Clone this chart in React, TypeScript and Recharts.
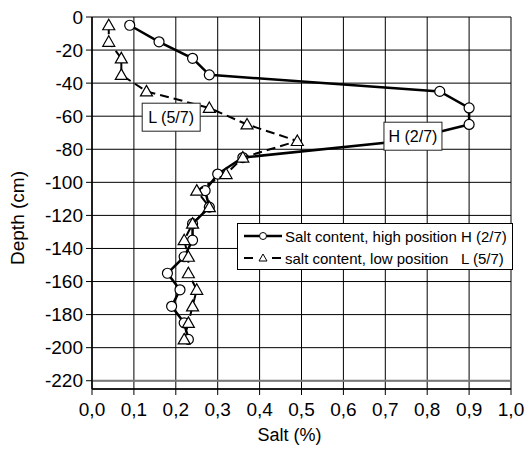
import React from "react";
import {
  CartesianGrid,
  Legend,
  ReferenceDot,
  ReferenceLine,
  Scatter,
  ScatterChart,
  XAxis,
  YAxis
} from "recharts";

const DEPTH = [-5, -15, -25, -35, -45, -55, -65, -75, -85, -95, -105, -115, -125, -135, -145, -155, -165, -175, -185, -195];
const SALT_HIGH = [0.09, 0.16, 0.24, 0.28, 0.83, 0.9, 0.9, 0.74, 0.36, 0.3, 0.27, 0.28, 0.24, 0.24, 0.22, 0.18, 0.21, 0.19, 0.22, 0.23];
const SALT_LOW = [0.04, 0.04, 0.07, 0.07, 0.13, 0.28, 0.37, 0.49, 0.36, 0.32, 0.25, 0.28, 0.24, 0.22, 0.23, 0.23, 0.25, 0.24, 0.23, 0.22];

const X_TICKS = [0, 0.1, 0.2, 0.3, 0.4, 0.5, 0.6, 0.7, 0.8, 0.9, 1];
const X_MINOR = [0.05, 0.15, 0.25, 0.35, 0.45, 0.55, 0.65, 0.75, 0.85, 0.95];
const Y_TICKS = [0, -20, -40, -60, -80, -100, -120, -140, -160, -180, -200, -220];
const Y_MINOR = [-10, -30, -50, -70, -90, -110, -130, -150, -170, -190, -210];

const LABELS = [
  { text: "L (5/7)", salt: 0.189, depth: -60.6 },
  { text: "H (2/7)", salt: 0.766, depth: -72.1 }
];

const highData = DEPTH.map((depth, i) => ({ salt: SALT_HIGH[i], depth }));
const lowData = DEPTH.map((depth, i) => ({ salt: SALT_LOW[i], depth }));

const FONT = '"Liberation Sans", Arial, sans-serif';

function CircleMark(props: any) {
  return <circle cx={props.cx} cy={props.cy} r={5} fill="#fff" stroke="#000" strokeWidth={1.2} />;
}

function TriangleMark(props: any) {
  const { cx, cy } = props;
  return (
    <path
      d={`M${cx},${cy - 6}L${cx + 6},${cy + 4.5}L${cx - 6},${cy + 4.5}Z`}
      fill="#fff"
      stroke="#000"
      strokeWidth={1.2}
    />
  );
}

function boxLabel(text: string) {
  return (props: any) => {
    const { cx, cy } = props;
    return (
      <g>
        <rect x={cx - 29} y={cy - 14} width={58} height={28} fill="#fff" stroke="#222" strokeWidth={1} />
        <text x={cx} y={cy + 5.5} textAnchor="middle" fontSize={16} fontFamily={FONT} fill="#000">
          {text}
        </text>
      </g>
    );
  };
}

function LegendBox() {
  const row = { display: "flex", alignItems: "center", height: 22, whiteSpace: "pre" as const };
  return (
    <div
      style={{
        width: 276,
        height: 47,
        boxSizing: "border-box",
        border: "1px solid #000",
        background: "#fff",
        fontFamily: FONT,
        fontSize: 15,
        color: "#000",
        padding: "1px 0 0 5px"
      }}
    >
      <div style={row}>
        <svg width={40} height={12}>
          <line x1={1} y1={6} x2={39} y2={6} stroke="#000" strokeWidth={2.5} />
          <circle cx={20} cy={6} r={3.5} fill="#fff" stroke="#000" />
        </svg>
        <span style={{ marginLeft: 2 }}>Salt content, high position H (2/7)</span>
      </div>
      <div style={row}>
        <svg width={40} height={12}>
          <line x1={1} y1={6} x2={39} y2={6} stroke="#000" strokeWidth={2} strokeDasharray="9 19" />
          <path d="M20,2L24,9L16,9Z" fill="#fff" stroke="#000" />
        </svg>
        <span style={{ marginLeft: 2 }}>salt content, low position   L (5/7)</span>
      </div>
    </div>
  );
}

export default function App() {
  return (
    <div style={{ position: "absolute", left: 0, top: 0, background: "#fff" }}>
      <ScatterChart
        width={529}
        height={453}
        margin={{ top: 17, right: 18, bottom: 0, left: 0 }}
        style={{ fontFamily: FONT }}
      >
        <CartesianGrid stroke="#000" strokeWidth={1} xAxisId="x" yAxisId="y" />
        <XAxis
          xAxisId="xm"
          type="number"
          dataKey="salt"
          domain={[0, 1]}
          ticks={X_MINOR}
          height={1}
          axisLine={false}
          tick={false}
          tickSize={3}
          tickLine={{ stroke: "#000" }}
        />
        <XAxis
          xAxisId="x"
          type="number"
          dataKey="salt"
          domain={[0, 1]}
          ticks={X_TICKS}
          interval={0}
          height={63}
          tickSize={6}
          tickMargin={8}
          axisLine={{ stroke: "#000", strokeWidth: 1.5 }}
          tickLine={{ stroke: "#000" }}
          tick={{ fontSize: 19, fill: "#000", fontFamily: FONT }}
          tickFormatter={(v: number) => v.toFixed(1).replace(".", ",")}
          label={{
            content: (p: any) => (
              <text
                x={p.viewBox.x + p.viewBox.width / 2 - 12}
                y={p.viewBox.y + 52}
                textAnchor="middle"
                fontSize={18}
                fontFamily={FONT}
                fill="#000"
              >
                Salt (%)
              </text>
            )
          }}
        />
        <YAxis
          yAxisId="ym"
          type="number"
          dataKey="depth"
          domain={[-225, 0]}
          ticks={Y_MINOR}
          width={1}
          axisLine={false}
          tick={false}
          tickSize={3}
          tickLine={{ stroke: "#000" }}
        />
        <YAxis
          yAxisId="y"
          type="number"
          dataKey="depth"
          domain={[-225, 0]}
          ticks={Y_TICKS}
          interval={0}
          width={91}
          tickSize={6}
          tickMargin={3}
          axisLine={{ stroke: "#000", strokeWidth: 1.5 }}
          tickLine={{ stroke: "#000" }}
          tick={{ fontSize: 19, fill: "#000", fontFamily: FONT }}
          label={{
            content: (p: any) => {
              const x = 24;
              const y = p.viewBox.y + p.viewBox.height / 2 + 15;
              return (
                <text
                  x={x}
                  y={y}
                  transform={`rotate(-90, ${x}, ${y})`}
                  textAnchor="middle"
                  fontSize={19}
                  fontFamily={FONT}
                  fill="#000"
                >
                  Depth (cm)
                </text>
              );
            }
          }}
        />
        <ReferenceLine xAxisId="x" yAxisId="y" y={-220} stroke="#7a7a7a" strokeWidth={2} />
        <Scatter
          name="Salt content, high position H (2/7)"
          data={highData}
          xAxisId="x"
          yAxisId="y"
          line={{ stroke: "#000", strokeWidth: 2.5 }}
          lineType="joint"
          shape={CircleMark}
          isAnimationActive={false}
        />
        <Scatter
          name="salt content, low position L (5/7)"
          data={lowData}
          xAxisId="x"
          yAxisId="y"
          line={{ stroke: "#000", strokeWidth: 2, strokeDasharray: "9 5" }}
          lineType="joint"
          shape={TriangleMark}
          isAnimationActive={false}
        />
        {LABELS.map((l) => (
          <ReferenceDot
            key={l.text}
            xAxisId="x"
            yAxisId="y"
            x={l.salt}
            y={l.depth}
            r={1}
            shape={boxLabel(l.text)}
          />
        ))}
        <Legend
          layout="vertical"
          align="center"
          verticalAlign="middle"
          wrapperStyle={{ left: 237, top: 223, width: 276, height: 47 }}
          content={() => <LegendBox />}
        />
      </ScatterChart>
    </div>
  );
}
